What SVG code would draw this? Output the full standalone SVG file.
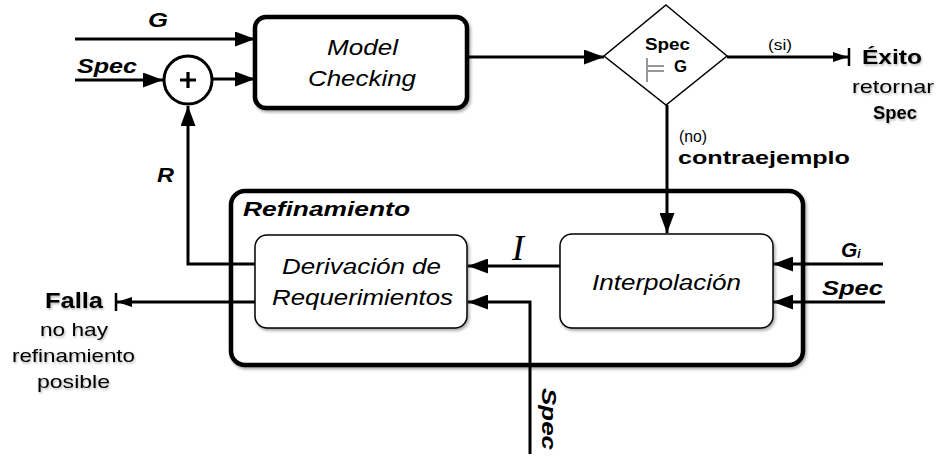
<svg xmlns="http://www.w3.org/2000/svg" width="937" height="457" viewBox="0 0 937 457">
<style>
.ln{stroke:#000;stroke-width:3;fill:none}
.box{fill:#fff;stroke:#000;stroke-width:1.5}
.thick{fill:#fff;stroke:#000;stroke-width:4.5}
.t{font-family:"Liberation Sans",Arial,sans-serif;fill:#000}
.it{font-style:italic;font-size:22px}
.bi{font-style:italic;font-weight:bold;font-size:21px}
.b{font-weight:bold}
</style>
<defs>
<marker id="ah" viewBox="0 0 20 15" refX="20" refY="7.5" markerWidth="20" markerHeight="15" markerUnits="userSpaceOnUse" orient="auto">
<path d="M0,0 L20,7.5 L0,15 Z" fill="#000"/>
</marker>
<marker id="ahb" viewBox="0 0 20 20" refX="18" refY="10" markerWidth="20" markerHeight="20" markerUnits="userSpaceOnUse" orient="auto">
<path d="M2,5 L17,10 L2,15 Z" fill="#000"/>
<path d="M18,1 L18,19" stroke="#000" stroke-width="2.5"/>
</marker>
<filter id="sh" x="-10%" y="-10%" width="130%" height="130%">
<feDropShadow dx="1.5" dy="2" stdDeviation="1.5" flood-color="#000" flood-opacity="0.35"/>
</filter>
<filter id="tsh" x="-10%" y="-20%" width="120%" height="150%">
<feDropShadow dx="1" dy="1.5" stdDeviation="1" flood-color="#000" flood-opacity="0.3"/>
</filter>
</defs>

<g id="refinamiento">
<rect class="thick" x="231" y="191" width="572" height="174" rx="14" filter="url(#sh)"/>
<text class="t bi" x="243" y="216" textLength="167" lengthAdjust="spacingAndGlyphs">Refinamiento</text>
</g>

<g id="connectors">
<path class="ln" d="M75,39 L255,39" marker-end="url(#ah)"/>
<path class="ln" d="M75,80 L163,80" marker-end="url(#ah)"/>
<path class="ln" d="M213,79 L255,79" marker-end="url(#ah)"/>
<path class="ln" d="M255,264 L188,264 L188,106" marker-end="url(#ah)"/>
<path class="ln" d="M467,57 L604,57" marker-end="url(#ah)"/>
<path class="ln" d="M727,57 L849,57" marker-end="url(#ahb)"/>
<path class="ln" d="M667,105 L667,233" marker-end="url(#ah)"/>
<path class="ln" d="M560,266 L468,266" marker-end="url(#ah)"/>
<path class="ln" d="M530,454 L530,302 L468,302" marker-end="url(#ah)"/>
<path class="ln" d="M255,302 L116,302" marker-end="url(#ahb)"/>
<path class="ln" d="M883,264 L773,264" marker-end="url(#ah)"/>
<path class="ln" d="M885,302 L773,302" marker-end="url(#ah)"/>
</g>

<g id="labels">
<text class="t bi" x="148" y="27" font-size="23" textLength="20" lengthAdjust="spacingAndGlyphs">G</text>
<text class="t bi" x="77" y="73" textLength="60" lengthAdjust="spacingAndGlyphs">Spec</text>
<text class="t bi" x="157" y="182" textLength="17" lengthAdjust="spacingAndGlyphs">R</text>
<text class="t" x="768" y="50" font-size="15" textLength="24" lengthAdjust="spacingAndGlyphs">(si)</text>
<text class="t" x="679" y="142" font-size="16" textLength="28" lengthAdjust="spacingAndGlyphs">(no)</text>
<text class="t b" x="678" y="164" font-size="19" textLength="172" lengthAdjust="spacingAndGlyphs">contraejemplo</text>
<text x="512" y="260" font-family="'Liberation Serif','Times New Roman',serif" font-style="italic" font-size="36">I</text>
<text class="t bi" x="841" y="257" font-size="19">G<tspan font-size="12" dy="1">i</tspan></text>
<text class="t bi" x="822" y="295" textLength="61" lengthAdjust="spacingAndGlyphs">Spec</text>
<text class="t bi" transform="translate(542,419) rotate(90)" text-anchor="middle" textLength="62" lengthAdjust="spacingAndGlyphs">Spec</text>
</g>

<g id="model-checking">
<rect class="thick" x="255" y="17" width="212" height="91" rx="11" filter="url(#sh)"/>
<text class="t it" x="327" y="55" textLength="71" lengthAdjust="spacingAndGlyphs">Model</text>
<text class="t it" x="308" y="86" textLength="108" lengthAdjust="spacingAndGlyphs">Checking</text>
</g>

<g id="sum">
<circle cx="188" cy="80" r="24" fill="#fff" stroke="#000" stroke-width="3"/>
<path d="M180,80 L196,80 M188,72 L188,88" stroke="#000" stroke-width="3.2"/>
</g>

<g id="decision">
<path d="M666,5 L727,56 L666,105 L604,56 Z" fill="#fff" stroke="#000" stroke-width="1.5"/>
<text class="t b" x="645" y="50" font-size="16" textLength="45" lengthAdjust="spacingAndGlyphs">Spec</text>
<path d="M647,58 L647,82 M648,66 L664,66 M648,71 L664,71" stroke="#333" stroke-width="1"/>
<text class="t b" x="674" y="72" font-size="16" textLength="13" lengthAdjust="spacingAndGlyphs">G</text>
</g>

<g id="derivacion">
<rect class="box" x="255" y="235" width="212" height="93" rx="12" filter="url(#sh)"/>
<text class="t it" x="282" y="274" textLength="159" lengthAdjust="spacingAndGlyphs">Derivación de</text>
<text class="t it" x="272" y="305" textLength="181" lengthAdjust="spacingAndGlyphs">Requerimientos</text>
</g>

<g id="interpolacion">
<rect class="box" x="560" y="234" width="213" height="94" rx="12" filter="url(#sh)"/>
<text class="t it" x="592" y="290" textLength="149" lengthAdjust="spacingAndGlyphs">Interpolación</text>
</g>

<g id="exito" filter="url(#tsh)">
<text class="t b" x="862" y="64" font-size="21" textLength="60" lengthAdjust="spacingAndGlyphs">Éxito</text>
<text class="t" x="852" y="93" font-size="19" textLength="82" lengthAdjust="spacingAndGlyphs">retornar</text>
<text class="t b" x="873" y="119" font-size="18" textLength="44" lengthAdjust="spacingAndGlyphs">Spec</text>
</g>

<g id="falla" filter="url(#tsh)">
<text class="t b" x="45" y="308" font-size="22" textLength="58" lengthAdjust="spacingAndGlyphs">Falla</text>
<text class="t" x="40" y="336" font-size="19" textLength="68" lengthAdjust="spacingAndGlyphs">no hay</text>
<text class="t" x="12" y="362" font-size="19" textLength="123" lengthAdjust="spacingAndGlyphs">refinamiento</text>
<text class="t" x="37" y="388" font-size="19" textLength="73" lengthAdjust="spacingAndGlyphs">posible</text>
</g>
</svg>
